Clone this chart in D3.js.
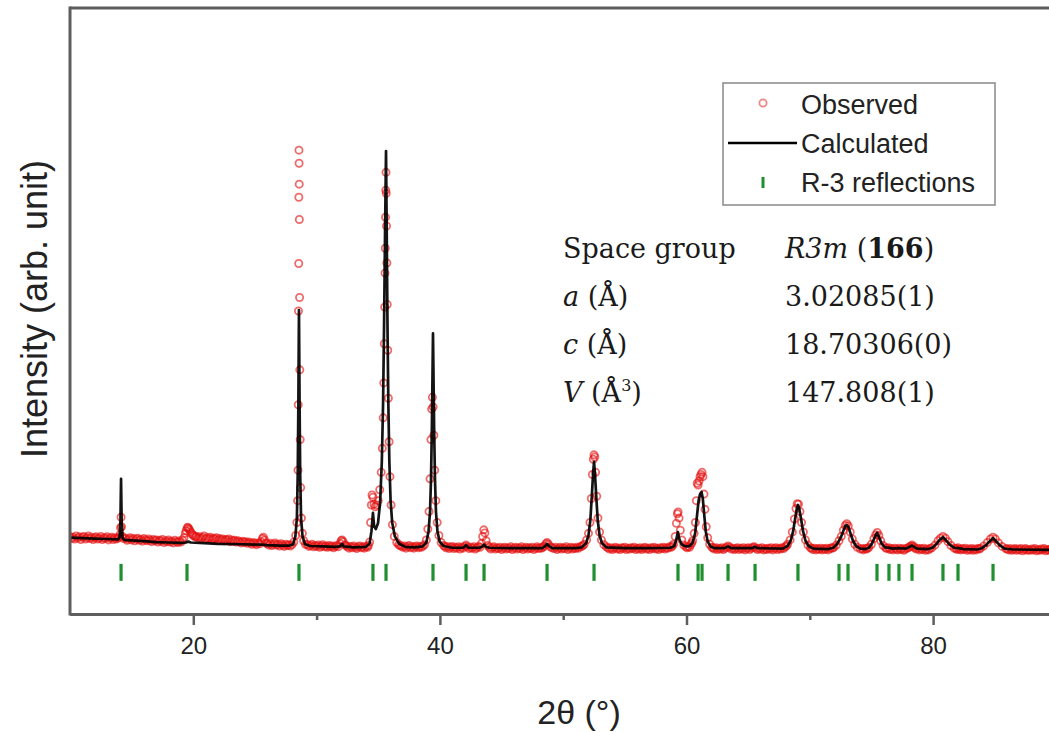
<!DOCTYPE html>
<html><head><meta charset="utf-8">
<script src="https://cdn.jsdelivr.net/npm/d3@7/dist/d3.min.js"></script>
<style>body{margin:0;background:#fff}svg{display:block}</style>
</head><body>
<svg id="chart" width="1049" height="732"></svg>
<script>
// ---- data ----
const observed = [
[10.0,118],[10.125,113],[10.25,116],[10.375,112],[10.5,119],[10.625,114],[10.75,117],[10.875,111],[11.0,116],[11.125,118],[11.25,112],[11.375,115],[11.5,119],[11.625,113],[11.75,116],[11.875,111],[12.0,115],[12.125,117],[12.25,112],[12.375,114],[12.5,118],[12.625,111],[12.75,115],[12.875,113],[13.0,117],[13.125,110],[13.25,114],[13.375,116],[13.5,111],[13.625,115],[13.75,112],[13.875,114],
[13.97,116],[14.05,122],[14.1,138],[14.14,162],[14.18,140],[14.25,118],[14.35,113],
[14.5,114],[14.625,109],[14.75,112],[14.875,115],[15.0,110],[15.125,113],[15.25,108],[15.375,112],[15.5,114],[15.625,109],[15.75,111],[15.875,107],[16.0,113],[16.125,110],[16.25,108],[16.375,112],[16.5,109],[16.625,106],[16.75,111],[16.875,108],[17.0,110],[17.125,105],[17.25,109],[17.375,107],[17.5,111],[17.625,104],[17.75,108],[17.875,106],[18.0,110],[18.125,105],[18.25,107],[18.375,103],[18.5,109],[18.625,106],[18.75,104],[18.875,108],[19.0,105],[19.125,109],
[19.25,115],[19.35,125],[19.42,131],[19.5,137],[19.55,139],[19.62,136],[19.7,133],[19.78,128],[19.88,124],[19.97,121],[20.07,119],[20.17,117],
[20.25,118],[20.375,114],[20.5,117],[20.625,113],[20.75,116],[20.875,119],[21.0,112],[21.125,115],[21.25,113],[21.375,116],[21.5,111],[21.625,114],[21.75,112],[21.875,115],[22.0,109],[22.125,113],[22.25,110],[22.375,112],[22.5,108],[22.625,111],[22.75,109],[22.875,112],[23.0,106],[23.125,110],[23.25,107],[23.375,109],[23.5,105],[23.625,108],[23.75,106],[23.875,103],[24.0,107],[24.125,104],[24.25,106],[24.375,102],[24.5,105],[24.625,103],[24.75,100],[24.875,104],[25.0,102],[25.125,99],[25.25,103],[25.375,101],
[25.5,106],[25.6,113],[25.68,116],[25.78,110],[25.88,103],
[26.0,101],[26.125,98],[26.25,102],[26.375,97],[26.5,100],[26.625,103],[26.75,98],[26.875,100],[27.0,96],[27.125,101],[27.25,98],[27.375,95],[27.5,100],[27.625,97],[27.75,99],[27.875,96],[28.0,99],
[28.15,105],[28.3,120],[28.4,150],[28.46,200],[28.49,270],[28.51,420],[28.53,635],[28.55,744],[28.56,896],[28.57,1004],[28.58,974],[28.59,926],[28.6,845],[28.62,666],[28.64,500],[28.67,340],[28.71,230],[28.77,160],[28.85,125],[28.95,108],[29.1,100],
[29.25,99],[29.375,95],[29.5,97],[29.625,100],[29.75,94],[29.875,97],[30.0,95],[30.125,98],[30.25,93],[30.375,96],[30.5,99],[30.625,94],[30.75,96],[30.875,93],[31.0,97],[31.125,94],[31.25,96],[31.375,92],[31.5,95],[31.625,97],[31.75,94],
[31.9,102],[32.0,108],[32.06,110],[32.15,106],[32.3,98],
[32.4,97],[32.5,94],[32.625,91],[32.75,95],[32.875,92],[33.0,96],[33.125,93],[33.25,90],[33.375,94],[33.5,96],[33.625,92],[33.75,94],[33.875,91],[34.0,95],[34.125,93],[34.2,97],
[34.3,105],[34.38,150],[34.44,190],[34.5,213],[34.57,208],[34.65,192],[34.75,186],[34.88,190],[35.0,200],[35.12,225],[35.24,265],[35.33,320],[35.4,390],[35.45,470],[35.49,560],[35.52,644],[35.55,722],[35.57,779],[35.59,850],[35.61,912],[35.63,953],[35.65,905],[35.67,830],[35.7,745],[35.73,650],[35.77,545],[35.82,435],[35.88,335],[35.95,255],[36.04,190],[36.15,145],[36.3,118],[36.5,104],[36.65,99],[36.75,97],
[36.875,96],[37.0,93],[37.125,96],[37.25,91],[37.375,94],[37.5,97],[37.625,92],[37.75,95],[37.875,91],[38.0,94],[38.125,96],[38.25,92],[38.375,95],[38.5,93],[38.625,96],[38.75,99],
[38.9,110],[39.02,135],[39.12,175],[39.2,250],[39.27,340],[39.33,410],[39.39,437],[39.45,415],[39.51,350],[39.58,270],[39.67,200],[39.78,150],[39.92,120],[40.1,104],[40.3,97],
[40.4,95],[40.5,92],[40.625,95],[40.75,90],[40.875,93],[41.0,95],[41.125,90],[41.25,93],[41.375,91],[41.5,94],[41.625,89],[41.75,93],[41.875,91],[42.0,95],[42.12,98],[42.25,94],[42.375,90],[42.5,93],[42.625,91],[42.75,94],[42.875,89],[43.0,92],[43.125,95],[43.25,93],
[43.38,102],[43.47,118],[43.56,133],[43.65,126],[43.75,108],[43.88,97],
[44.0,93],[44.125,89],[44.25,92],[44.375,94],[44.5,89],[44.625,92],[44.75,90],[44.875,93],[45.0,88],[45.125,91],[45.25,93],[45.375,89],[45.5,92],[45.625,90],[45.75,94],[45.875,88],[46.0,91],[46.125,93],[46.25,89],[46.375,92],[46.5,90],[46.625,94],[46.75,88],[46.875,91],[47.0,93],[47.125,89],[47.25,92],[47.375,90],[47.5,93],[47.625,88],[47.75,91],[47.875,94],[48.0,90],[48.125,92],[48.25,91],[48.35,93],
[48.45,96],[48.6,101],[48.69,104],[48.8,100],[48.95,94],
[49.1,92],[49.25,90],[49.375,93],[49.5,88],[49.625,91],[49.75,93],[49.875,89],[50.0,92],[50.125,90],[50.25,94],[50.375,88],[50.5,91],[50.625,93],[50.75,89],[50.875,92],[51.0,90],[51.125,93],[51.25,91],[51.375,94],[51.5,95],[51.6,97],
[51.7,100],[51.9,110],[52.05,125],[52.17,150],[52.28,205],[52.37,260],[52.44,295],[52.5,305],[52.56,300],[52.63,265],[52.72,210],[52.82,160],[52.95,128],[53.1,110],[53.3,99],[53.5,94],
[53.625,92],[53.75,89],[53.875,92],[54.0,88],[54.125,91],[54.25,93],[54.375,89],[54.5,91],[54.625,88],[54.75,92],[54.875,90],[55.0,93],[55.125,88],[55.25,91],[55.375,89],[55.5,92],[55.625,90],[55.75,93],[55.875,88],[56.0,91],[56.125,89],[56.25,92],[56.375,88],[56.5,91],[56.625,93],[56.75,89],[56.875,91],[57.0,88],[57.125,92],[57.25,90],[57.375,93],[57.5,89],[57.625,91],[57.75,88],[57.875,92],[58.0,90],[58.125,93],[58.25,89],[58.375,92],[58.5,91],[58.625,94],[58.75,93],[58.85,96],
[58.95,100],[59.08,118],[59.18,148],[59.26,170],[59.32,174],[59.4,160],[59.5,132],[59.62,110],[59.78,98],[59.95,94],
[60.05,92],[60.15,95],[60.25,93],[60.35,99],[60.42,103],
[60.5,108],[60.62,125],[60.72,150],[60.8,200],[60.87,240],[60.94,236],[61.02,245],[61.1,255],[61.18,260],[61.26,265],[61.33,255],[61.42,215],[61.5,180],[61.6,140],[61.72,115],[61.88,100],[62.05,93],
[62.15,92],[62.25,89],[62.375,92],[62.5,88],[62.625,91],[62.75,89],[62.875,92],[63.0,88],[63.125,91],[63.25,93],[63.37,96],[63.5,93],[63.625,89],[63.75,91],[63.875,88],[64.0,90],[64.125,92],[64.25,88],[64.375,91],[64.5,89],[64.625,92],[64.75,87],[64.875,90],[65.0,92],[65.125,88],[65.25,91],[65.375,93],[65.5,94],[65.625,91],[65.75,88],[65.875,91],[66.0,89],[66.125,92],[66.25,87],[66.375,90],[66.5,88],[66.625,91],[66.75,89],[66.875,92],[67.0,87],[67.125,90],[67.25,92],[67.375,88],[67.5,91],[67.625,89],[67.75,92],[67.875,90],[68.0,94],[68.1,96],
[68.2,100],[68.4,110],[68.58,128],[68.75,158],[68.88,182],[68.98,193],[69.08,192],[69.2,175],[69.33,150],[69.48,128],[69.65,110],[69.85,98],[70.05,92],
[70.15,91],[70.25,88],[70.375,91],[70.5,87],[70.625,90],[70.75,88],[70.875,91],[71.0,87],[71.125,90],[71.25,88],[71.375,91],[71.5,87],[71.625,90],[71.75,92],[71.85,91],
[71.95,93],[72.15,98],[72.37,108],[72.55,118],[72.72,132],[72.88,143],[73.0,147],[73.12,142],[73.28,128],[73.45,112],[73.65,100],[73.85,93],[74.1,89],
[74.25,90],[74.35,87],[74.5,90],[74.6,89],[74.7,91],
[74.8,93],[75.0,100],[75.2,113],[75.35,122],[75.47,127],[75.6,120],[75.75,108],[75.95,97],[76.15,92],
[76.25,90],[76.4,92],[76.5,88],[76.625,90],[76.75,87],[76.875,91],[77.0,89],[77.125,87],[77.25,91],[77.375,88],[77.5,90],[77.625,86],[77.75,89],[77.875,91],[78.0,92],[78.1,94],[78.2,96],[78.3,98],[78.4,95],[78.5,92],[78.625,89],[78.75,91],[78.875,87],[79.0,90],[79.125,88],[79.25,91],[79.375,86],[79.5,89],[79.625,87],[79.75,90],
[79.9,92],[80.15,98],[80.4,108],[80.6,114],[80.8,118],[81.0,114],[81.2,106],[81.45,97],[81.7,91],
[81.85,90],[81.95,88],[82.02,92],[82.125,89],[82.25,87],[82.375,90],[82.5,88],[82.625,91],[82.75,86],[82.875,89],[83.0,87],[83.125,90],[83.25,86],[83.375,89],[83.5,87],[83.625,90],[83.75,89],
[83.85,91],[84.1,96],[84.4,104],[84.65,112],[84.86,116],[85.05,112],[85.3,103],[85.6,95],[85.9,90],
[86.0,89],[86.125,87],[86.25,90],[86.375,86],[86.5,88],[86.625,90],[86.75,86],[86.875,89],[87.0,87],[87.125,90],[87.25,85],[87.375,88],[87.5,90],[87.625,86],[87.75,88],[87.875,86],[88.0,89],[88.125,87],[88.25,90],[88.375,85],[88.5,88],[88.625,86],[88.75,89],[88.875,87],[89.0,90],[89.125,85],[89.25,88],[89.375,86],[89.5,89],[89.625,87],[89.75,90],[89.875,86],[90.0,88]
];

const calculated = [
[10.0,115],[11,114],[12,113],[13,112],[13.9,111],
[14.02,116],[14.09,150],[14.14,250],[14.19,150],[14.26,115],[14.4,110],
[15,109],[16,107],[17,105],[18,104],[19.0,103],[19.4,104],[19.6,106],[19.8,104],[20.5,103],[22,101],[24,100],[25.5,99],[26,98],[27,97],[27.8,97],
[28.1,100],[28.28,118],[28.4,160],[28.47,260],[28.52,420],[28.57,637],[28.62,420],[28.67,260],[28.74,160],[28.86,118],[29.06,100],
[29.5,96],[30.5,95],[31.5,94],[31.9,95],[32.06,101],[32.2,95],[33,93],[34,94],
[34.3,102],[34.45,130],[34.57,172],[34.66,142],[34.8,135],[34.98,148],[35.15,195],[35.29,290],[35.39,420],[35.47,600],[35.55,810],[35.63,1002],[35.69,810],[35.75,600],[35.82,420],[35.9,290],[36.0,200],[36.13,150],[36.35,118],[36.7,101],[37.2,94],
[38.0,93],[38.6,95],
[38.9,104],[39.08,130],[39.2,175],[39.28,250],[39.35,370],[39.44,584],[39.53,370],[39.6,250],[39.68,175],[39.8,130],[39.98,106],[40.3,96],
[41,92],[41.9,92],[42.12,98],[42.3,92],[43.2,92],[43.45,95],[43.58,99],[43.7,95],[44,92],[46,91],[48.3,91],[48.55,96],[48.69,101],[48.85,96],[49.1,91],[51,91],
[51.5,93],[51.85,102],[52.05,120],[52.2,155],[52.32,210],[52.42,260],[52.5,289],[52.58,260],[52.68,210],[52.8,155],[52.95,120],[53.15,102],[53.5,93],
[55,91],[57,91],[58.7,92],
[59.0,96],[59.15,108],[59.3,128],[59.42,112],[59.6,100],[59.85,96],[60.1,95],[60.3,97],
[60.5,104],[60.7,125],[60.85,165],[60.98,200],[61.1,215],[61.22,220],[61.32,205],[61.43,170],[61.56,130],[61.72,106],[61.95,95],[62.3,91],
[63.1,91],[63.37,95],[63.6,91],[65.3,91],[65.56,94],[65.8,91],[67.8,90],
[68.2,96],[68.45,108],[68.65,130],[68.82,160],[68.95,182],[69.04,190],[69.14,182],[69.28,160],[69.45,130],[69.65,108],[69.9,96],[70.3,90],
[71.5,89],
[71.9,92],[72.2,100],[72.37,108],[72.55,118],[72.75,133],[72.9,142],[73.0,144],[73.12,140],[73.3,125],[73.5,108],[73.75,96],[74.1,90],[74.5,89],
[74.8,92],[75.05,102],[75.25,115],[75.45,126],[75.62,116],[75.82,102],[76.1,93],[76.42,92],[76.7,90],[77.23,91],[77.8,90],[78.29,97],[78.7,90],[79.6,89],
[79.95,92],[80.25,100],[80.5,109],[80.8,116],[81.05,109],[81.35,99],[81.7,92],[82.02,91],[82.5,89],[83.6,88],
[83.95,91],[84.3,98],[84.6,107],[84.86,114],[85.1,107],[85.4,98],[85.8,90],[86.5,88],[90,87]
];

const reflections = [14.14,19.49,28.57,34.57,35.63,39.44,42.12,43.58,48.69,52.50,59.31,60.94,61.26,63.37,65.56,69.04,72.37,73.10,75.45,76.42,77.23,78.29,80.80,82.02,84.86];

const majorTicks = [20, 40, 60, 80];
const minorTicks = [30, 50, 70];

const legendLabels = ["Observed", "Calculated", "R-3 reflections"];

const tableLabels = [
  [{t:"Space group"}],
  [{t:"a", i:true}, {t:" (Å)"}],
  [{t:"c", i:true}, {t:" (Å)"}],
  [{t:"V", i:true}, {t:" (Å"}, {t:"3", sup:true}, {t:")"}]
];
const tableValues = [
  [{t:"R3m", i:true}, {t:" ("}, {t:"166", b:true}, {t:")"}],
  [{t:"3.02085(1)"}],
  [{t:"18.70306(0)"}],
  [{t:"147.808(1)"}]
];

// ---- drawing ----
const W = 1049, H = 732;
const svg = d3.select("#chart");
const x = d3.scaleLinear().domain([10, 90]).range([70, 1056.4]);
const y = d3.scaleLinear().domain([-60, 1330]).range([614, 8]);

svg.append("defs").append("clipPath").attr("id","clip")
  .append("rect").attr("x",70).attr("y",8).attr("width",W-70).attr("height",606);

const plot = svg.append("g").attr("clip-path","url(#clip)");

const obsColor = "#e41010";
// observed circles
plot.append("g").selectAll("circle").data(observed).join("circle")
  .attr("cx", d => x(d[0])).attr("cy", d => y(d[1])).attr("r", 3.6)
  .attr("fill","none").attr("stroke",obsColor).attr("stroke-width",1.8).attr("stroke-opacity",0.62);

// calculated line
plot.append("path").datum(calculated)
  .attr("d", d3.line().x(d => x(d[0])).y(d => y(d[1])))
  .attr("fill","none").attr("stroke","#000").attr("stroke-width",2.7)
  .attr("stroke-linejoin","round").attr("stroke-opacity",0.92);

// reflection ticks
plot.append("g").selectAll("line").data(reflections).join("line")
  .attr("x1", d => x(d)).attr("x2", d => x(d))
  .attr("y1", y(55)).attr("y2", y(16))
  .attr("stroke","#1f8f2f").attr("stroke-width",3.2);

// frame
const frameColor = "#5e5e5e";
svg.append("line").attr("x1",70).attr("x2",W).attr("y1",8).attr("y2",8)
  .attr("stroke",frameColor).attr("stroke-width",3);
svg.append("line").attr("x1",70).attr("x2",70).attr("y1",6.5).attr("y2",615.5)
  .attr("stroke",frameColor).attr("stroke-width",3);

// x axis
const gMinor = svg.append("g").attr("transform","translate(0,614)")
  .call(d3.axisBottom(x).tickValues(minorTicks).tickSize(6).tickSizeOuter(0).tickFormat(""));
const gMajor = svg.append("g").attr("transform","translate(0,614)")
  .call(d3.axisBottom(x).tickValues(majorTicks).tickSize(11).tickSizeOuter(0).tickPadding(12));
[gMinor, gMajor].forEach(g => {
  g.select(".domain").attr("stroke",frameColor).attr("stroke-width",3);
  g.selectAll(".tick line").attr("stroke",frameColor).attr("stroke-width",2.5);
});
gMajor.selectAll(".tick text").attr("font-family","'Liberation Sans', Arial, sans-serif")
  .attr("font-size",24).attr("fill","#222");

// axis titles
svg.append("text").attr("x",579).attr("y",724).attr("text-anchor","middle")
  .attr("font-family","'Liberation Sans', Arial, sans-serif").attr("font-size",34).attr("fill","#222")
  .text("2θ (°)");
svg.append("text").attr("transform","translate(47,309) rotate(-90)").attr("text-anchor","middle")
  .attr("font-family","'Liberation Sans', Arial, sans-serif").attr("font-size",36).attr("fill","#222")
  .text("Intensity (arb. unit)");

// legend
const lg = svg.append("g");
lg.append("rect").attr("x",723).attr("y",83).attr("width",272).attr("height",122)
  .attr("fill","#fff").attr("stroke","#888").attr("stroke-width",1.5);
const lgFont = "'Liberation Sans', Arial, sans-serif";
legendLabels.forEach((t, i) => {
  lg.append("text").attr("x",801).attr("y",114 + i*39).attr("font-family",lgFont)
    .attr("font-size",27).attr("fill","#222").text(t);
});
lg.append("circle").attr("cx",763).attr("cy",103).attr("r",3.6)
  .attr("fill","none").attr("stroke",obsColor).attr("stroke-width",1.8).attr("stroke-opacity",0.5);
lg.append("line").attr("x1",728).attr("x2",797).attr("y1",143).attr("y2",143)
  .attr("stroke","#000").attr("stroke-width",2.6);
lg.append("line").attr("x1",763).attr("x2",763).attr("y1",177).attr("y2",188)
  .attr("stroke","#1f8f2f").attr("stroke-width",3);

// table
const tFont = "'DejaVu Serif', 'Liberation Serif', serif";
function addRich(xp, yp, parts) {
  const t = svg.append("text").attr("x",xp).attr("y",yp).attr("font-family",tFont)
    .attr("font-size",27).attr("fill","#1a1a1a");
  let shifted = false;
  parts.forEach(p => {
    const s = t.append("tspan").text(p.t);
    if (p.i) s.attr("font-style","italic");
    if (p.b) s.attr("font-weight","bold");
    if (p.sup) { s.attr("font-size",16).attr("dy",-11); shifted = true; }
    else if (shifted) { s.attr("dy",11); shifted = false; }
  });
  return t;
}
const rowY = [258, 306, 354, 402];
tableLabels.forEach((p, i) => addRich(563, rowY[i], p));
tableValues.forEach((p, i) => addRich(785, rowY[i], p));
</script>
</body></html>
